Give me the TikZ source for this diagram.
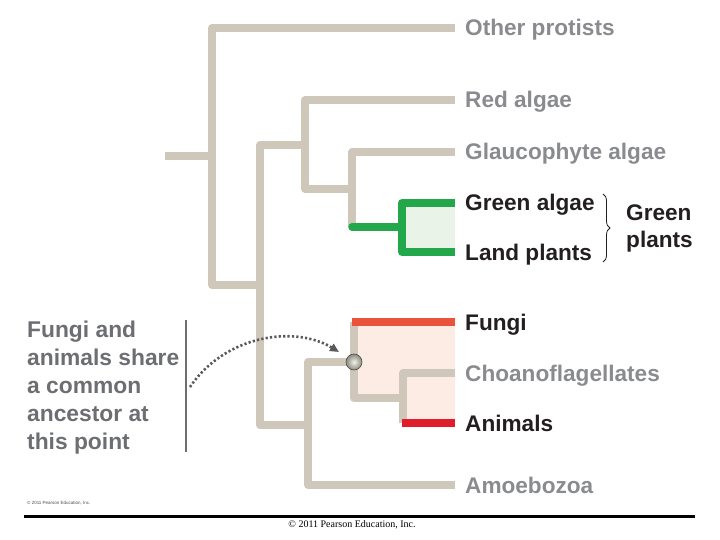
\documentclass[tikz,border=0pt]{standalone}
\usepackage{fontspec}
\setmainfont{Liberation Serif}
\setsansfont{Liberation Sans}
\usepackage{xcolor}
\usetikzlibrary{calc, arrows.meta, decorations.pathreplacing}

\definecolor{tan}{HTML}{CFC7B9}
\definecolor{leafgreen}{HTML}{22A84A}
\definecolor{fungired}{HTML}{E8533A}
\definecolor{animalred}{HTML}{E01E2B}
\definecolor{greenfill}{HTML}{EAF3E8}
\definecolor{pinkfill}{HTML}{FDECE3}
\definecolor{labelgray}{HTML}{8A8B8E}
\definecolor{notegray}{HTML}{6D6E71}
\definecolor{darktext}{HTML}{231F20}
\definecolor{ballgray}{HTML}{C8C6B2}

\begin{document}
\begin{tikzpicture}[x=1pt, y=-1pt,
	branch/.style={line width=7.5pt, draw=tan, line join=round},
	taxon/.style={anchor=base west, inner sep=0pt, font=\sffamily\bfseries\fontsize{22.6}{24}\selectfont},
	grey taxon/.style={taxon, text=labelgray},
	black taxon/.style={taxon, text=darktext}]
		
		%page size
		\useasboundingbox (0,0) rectangle (720,540);
		
		%definition of tips of the tree
		\def\tipX{455};
		\coordinate (tOther) at (\tipX,28);
		\coordinate (tRed) at (\tipX,100);
		\coordinate (tGlauco) at (\tipX,152);
		\coordinate (tGreen) at (\tipX,203);
		\coordinate (tLand) at (\tipX,252);
		\coordinate (tFungi) at (\tipX,322);
		\coordinate (tChoano) at (\tipX,373);
		\coordinate (tAnimals) at (\tipX,423);
		\coordinate (tAmoeba) at (\tipX,485);
		
		%definition of internal nodes
		\coordinate (root) at (165,156);
		\coordinate (nRoot) at (212,156);
		\coordinate (nA) at (260,285);
		\coordinate (nB) at (305,145);
		\coordinate (nC) at (352,189);
		\coordinate (nD) at (402,227);
		\coordinate (nE) at (308,425);
		\coordinate (nF) at (354,362);
		\coordinate (nG) at (403,398);
		
		%shaded groups
		\fill [greenfill] (nD |- tGreen) rectangle (tLand);
		\fill [pinkfill] (nF |- tFungi) -- (tFungi) -- (tAnimals) -- (nG |- tAnimals) -- (nG) -- (nF |- nG) -- cycle;
		
		%tree
		\draw [branch] (root) -- (nRoot);
		\draw [branch] (tOther) -| (nRoot) |- (nA);
		\draw [branch] (nB) -| (nA) |- (nE);
		\draw [branch] (tRed) -| (nB) |- (nC);
		\draw [branch] (tGlauco) -| (nC) -- (nC |- nD);
		\draw [branch, draw=leafgreen, line cap=round] (nC |- nD) -- (nD);
		\draw [branch, draw=leafgreen] (tGreen) -| (nD) |- (tLand);
		\draw [branch] (nF) -| (nE) |- (tAmoeba);
		\draw [branch] (nF |- tFungi) -- (nF) |- (nG);
		\draw [branch] (tChoano) -| (nG) -- (nG |- tAnimals);
		\draw [branch, draw=fungired] ($(nF |- tFungi)+(-2,0)$) -- (tFungi);
		\draw [branch, draw=animalred] ($(nG |- tAnimals)+(-1,0)$) -- (tAnimals);
		
		%common ancestor
		\node [circle, minimum size=16pt, inner sep=0pt, shading=radial, inner color=ballgray!25!white, outer color=ballgray!70!black, draw=black!70, line width=0.6pt] (anc) at (nF) {};
		
		%labels
		\node [grey taxon] (lOther) at ($(tOther)+(10,8)$) {Other protists};
		\node [grey taxon] (lRed) at ($(tRed)+(10,8)$) {Red algae};
		\node [grey taxon] (lGlauco) at ($(tGlauco)+(10,8)$) {Glaucophyte algae};
		\node [black taxon] (lGreen) at ($(tGreen)+(10,8)$) {Green algae};
		\node [black taxon] (lLand) at ($(tLand)+(10,8)$) {Land plants};
		\node [black taxon] (lFungi) at ($(tFungi)+(10,8)$) {Fungi};
		\node [grey taxon] (lChoano) at ($(tChoano)+(10,8)$) {Choanoflagellates};
		\node [black taxon] (lAnimals) at ($(tAnimals)+(10,8)$) {Animals};
		\node [grey taxon] (lAmoeba) at ($(tAmoeba)+(10,8)$) {Amoebozoa};
		
		%green plants brace
		\draw [decorate, decoration={brace, amplitude=7pt}, line width=0.8pt, darktext] (603,194) -- (603,262) coordinate [midway] (braceMid);
		\node [taxon, anchor=west, text=darktext, align=left, font=\sffamily\bfseries\fontsize{22.6}{27}\selectfont] (lPlants) at (626,228) {Green\\plants};
		
		%note on the left
		\node [anchor=north west, inner sep=0pt, align=left, text=notegray, font=\sffamily\bfseries\fontsize{22.8}{28}\selectfont] (note) at (27,321) {Fungi and\\animals share\\a common\\ancestor at\\this point};
		\coordinate (barTop) at (186,320);
		\coordinate (barBottom) at (186,452);
		\draw [line width=2.5pt, notegray] (barTop) -- (barBottom);
		
		%dotted arrow
		\coordinate (arrowStart) at (190,387);
		\coordinate (arrowEnd) at (339,352);
		\draw [line width=2.6pt, black!65, dash pattern=on 2.2pt off 2.2pt, -{Triangle[length=9pt, width=8pt]}] (arrowStart) .. controls (225,335) and (295,325) .. (arrowEnd);
		
		%copyright
		\node [anchor=base west, inner sep=0pt, text=black!70, font=\sffamily\fontsize{4.5}{5}\selectfont] (smallCopy) at (27,504) {\textcopyright{} 2011 Pearson Education, Inc.};
		\coordinate (ruleLeft) at (24,516);
		\coordinate (ruleRight) at (695,516);
		\draw [line width=3pt] (ruleLeft) -- (ruleRight);
		\node [anchor=base, inner sep=0pt, font=\fontsize{10}{12}\selectfont] (footer) at (352,527) {\textcopyright{} 2011 Pearson Education, Inc.};
	\end{tikzpicture}
\end{document}
